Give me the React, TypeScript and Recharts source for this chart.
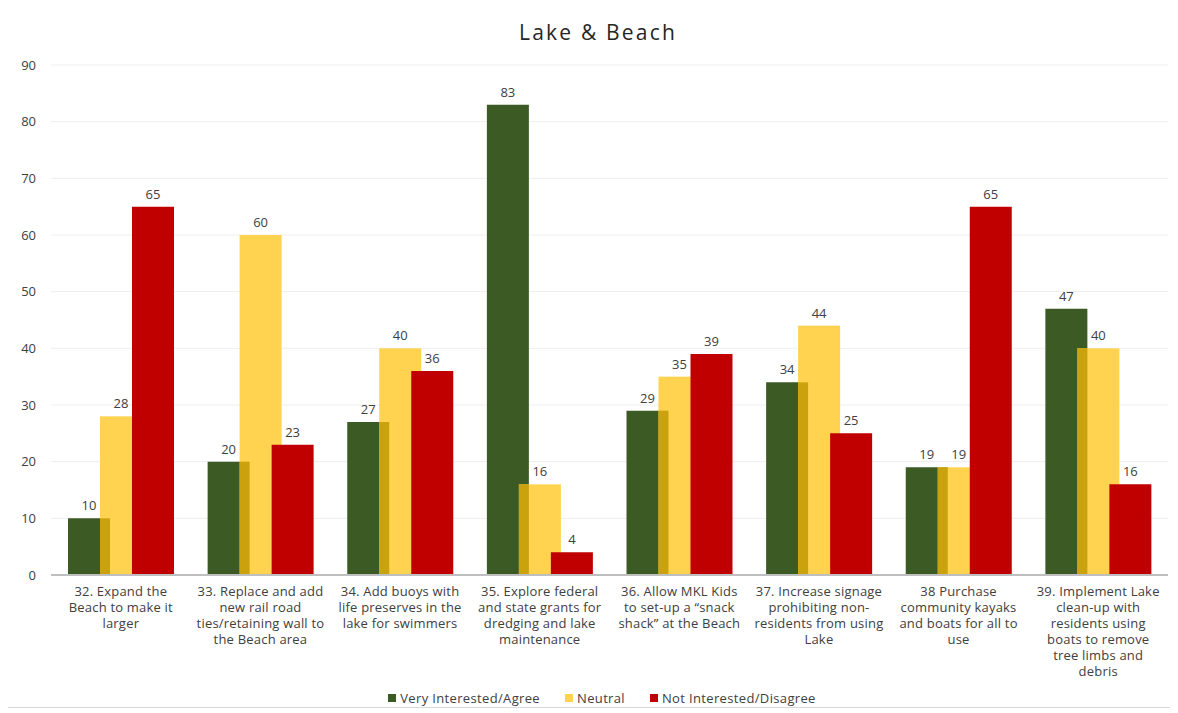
import React from "react";
import { BarChart, Bar, XAxis, YAxis, CartesianGrid, LabelList, Legend } from "recharts";

const categories = [
  "32. Expand the\nBeach to make it\nlarger",
  "33. Replace and add\nnew rail road\nties/retaining wall to\nthe Beach area",
  "34. Add buoys with\nlife preserves in the\nlake for swimmers",
  "35. Explore federal\nand state grants for\ndredging and lake\nmaintenance",
  "36. Allow MKL Kids\nto set-up a \u201csnack\nshack\u201d at the Beach",
  "37. Increase signage\nprohibiting non-\nresidents from using\nLake",
  "38 Purchase\ncommunity kayaks\nand boats for all to\nuse",
  "39. Implement Lake\nclean-up with\nresidents using\nboats to remove\ntree limbs and\ndebris",
];
const agree = [10, 20, 27, 83, 29, 34, 19, 47];
const neutral = [28, 60, 40, 16, 35, 44, 19, 40];
const disagree = [65, 23, 36, 4, 39, 25, 65, 16];
const yTicks = [0, 10, 20, 30, 40, 50, 60, 70, 80, 90];

const seriesNames = ["Very Interested/Agree", "Neutral", "Not Interested/Disagree"];
const GREEN = "#3C5A24";
const YELLOW = "#FFD34F";
const RED = "#C00000";
const OVERLAP = "#C9A20E";
const FONT = "'Open Sans', sans-serif";
const TEXT = "#404040";
const BAR_SIZE = 42;
const BAR_GAP = -10;

const data = categories.map((c, i) => ({
  name: c,
  agree: agree[i],
  neutral: neutral[i],
  disagree: disagree[i],
}));

const CatTick = (props: any) => {
  const { x, y, payload } = props;
  const lines = String(payload.value).split("\n");
  return (
    <text x={x} y={y} textAnchor="middle" fill={TEXT} fontSize={13} fontFamily={FONT} letterSpacing={0.2}>
      {lines.map((l, i) => (
        <tspan key={i} x={x} dy={i === 0 ? 19 : 16}>
          {l}
        </tspan>
      ))}
    </text>
  );
};

const NeutralShape = (props: any) => {
  const { x, y, width, height, payload } = props;
  if (!height || height <= 0) return null;
  const darkH = (height * Math.min(payload.agree, payload.neutral)) / payload.neutral;
  const ov = Math.abs(BAR_GAP);
  return (
    <g>
      <rect x={x} y={y} width={width} height={height} fill={YELLOW} />
      <rect x={x} y={y + height - darkH} width={ov} height={darkH} fill={OVERLAP} />
    </g>
  );
};

const LegendContent = () => {
  const colors = [GREEN, YELLOW, RED];
  return (
    <div
      style={{
        display: "flex",
        justifyContent: "center",
        gap: 25,
        fontFamily: FONT,
        fontSize: 13,
        letterSpacing: 0.35,
        color: TEXT,
        paddingTop: 11,
        paddingLeft: 28,
      }}
    >
      {seriesNames.map((n, i) => (
        <div key={n} style={{ display: "flex", alignItems: "center", gap: 4 }}>
          <span style={{ width: 8, height: 8, background: colors[i], display: "inline-block" }} />
          <span>{n}</span>
        </div>
      ))}
    </div>
  );
};

export default function App() {
  return (
    <div
      style={{
        position: "relative",
        width: 1162,
        height: 699,
        marginLeft: -1,
        marginTop: -1,
        border: "1px solid #D9D9D9",
        background: "#fff",
      }}
    >
      <div
        style={{
          position: "absolute",
          top: 10,
          left: 0,
          width: 1180,
          textAlign: "center",
          fontFamily: FONT,
          fontSize: 21,
          letterSpacing: 2.2,
          color: "#262626",
        }}
      >
        Lake &amp; Beach
      </div>
      <div style={{ position: "absolute", left: 0, top: 0 }}>
        <BarChart
          width={1162}
          height={700}
          data={data}
          margin={{ top: 57, right: 2, bottom: 0, left: 0 }}
          barSize={BAR_SIZE}
          barGap={BAR_GAP}
        >
          <CartesianGrid vertical={false} stroke="#EEEEEE" />
          <XAxis
            dataKey="name"
            interval={0}
            tick={<CatTick />}
            tickLine={false}
            axisLine={{ stroke: "#BFBFBF", strokeWidth: 2 }}
            height={103}
            tickSize={0}
          />
          <YAxis
            domain={[0, 90]}
            ticks={yTicks}
            width={43}
            axisLine={false}
            tickLine={false}
            tickSize={0}
            tickMargin={15}
            tick={{ fill: TEXT, fontSize: 13, fontFamily: FONT }}
          />
          <Legend verticalAlign="bottom" height={30} content={<LegendContent />} />
          <Bar dataKey="agree" name={seriesNames[0]} fill={GREEN} isAnimationActive={false}>
            <LabelList dataKey="agree" position="top" offset={8} fill={TEXT} fontSize={13} fontFamily={FONT} />
          </Bar>
          <Bar dataKey="neutral" name={seriesNames[1]} fill={YELLOW} shape={<NeutralShape />} isAnimationActive={false}>
            <LabelList dataKey="neutral" position="top" offset={8} fill={TEXT} fontSize={13} fontFamily={FONT} />
          </Bar>
          <Bar dataKey="disagree" name={seriesNames[2]} fill={RED} isAnimationActive={false}>
            <LabelList dataKey="disagree" position="top" offset={8} fill={TEXT} fontSize={13} fontFamily={FONT} />
          </Bar>
        </BarChart>
      </div>
    </div>
  );
}
